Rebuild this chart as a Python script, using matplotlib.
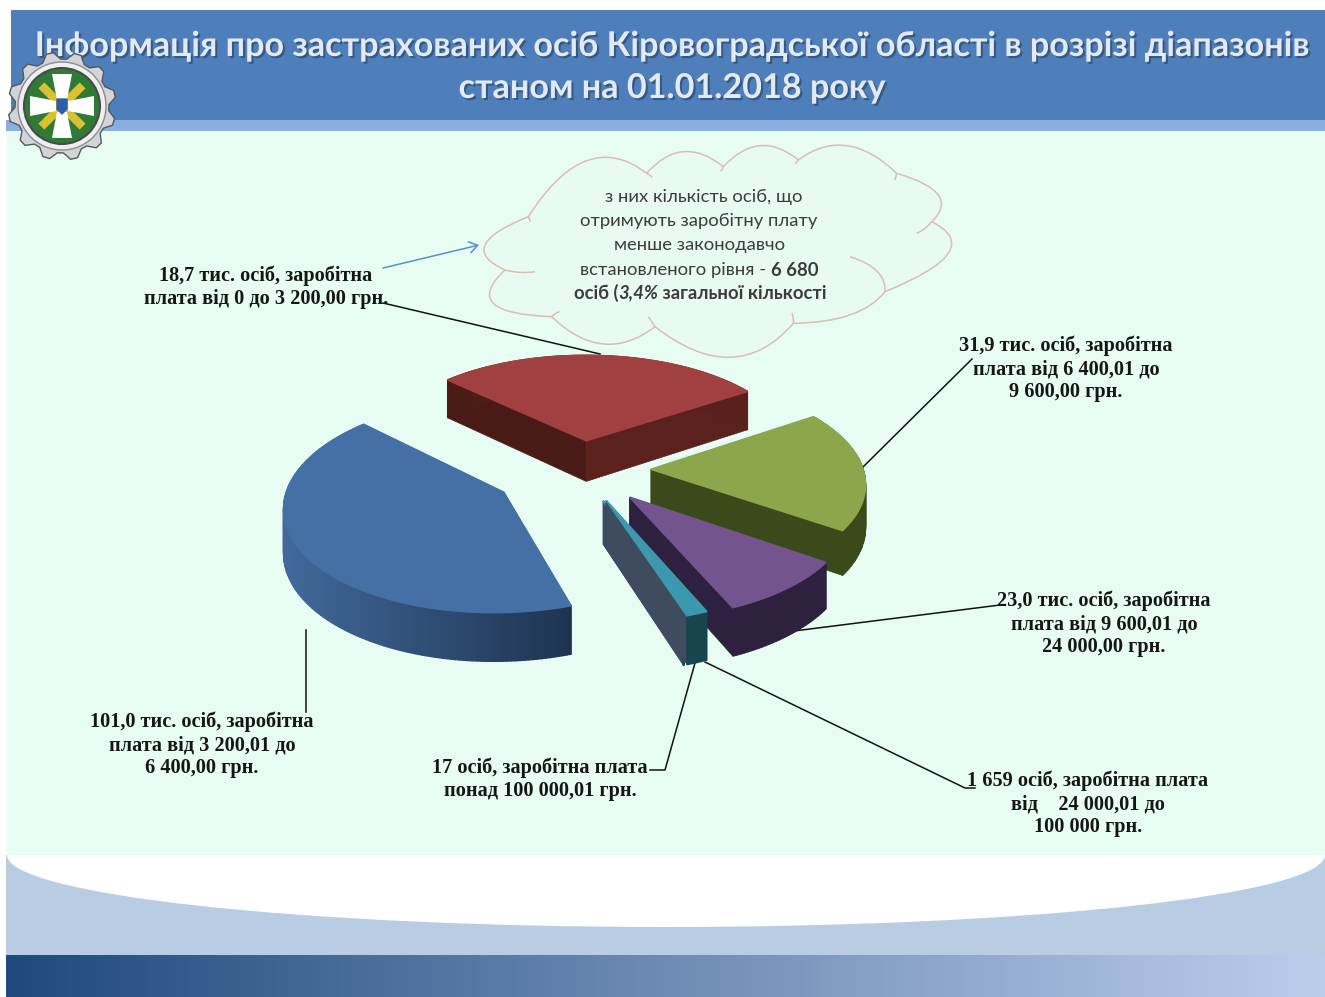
import numpy as np
import matplotlib
matplotlib.use('Agg')
import matplotlib.pyplot as plt
import matplotlib.patheffects as pe
from matplotlib.patches import Ellipse, Circle, Rectangle, PathPatch, FancyArrowPatch
from matplotlib.path import Path
from matplotlib.colors import to_rgb

# angular shares as drawn in the picture (percent of the circle), clockwise from the green slice
slice_names = ['6400-9600', '9600-24000', '24000-100000', 'over 100000', '3200-6400', '0-3200']
slice_shares = [18.9, 8.9, 1.4, 0.02, 42.2, 28.58]
start_angle = -33.5

title_lines = ['Інформація про застрахованих осіб Кіровоградської області в розрізі діапазонів',
               'станом на 01.01.2018 року']

label_lines = [
    ['18,7 тис. осіб, заробітна', 'плата від 0 до 3 200,00 грн.'],
    ['31,9 тис. осіб, заробітна', 'плата від 6 400,01 до', '9 600,00 грн.'],
    ['23,0 тис. осіб, заробітна', 'плата від 9 600,01 до', '24 000,00 грн.'],
    ['101,0 тис. осіб, заробітна', 'плата від 3 200,01 до', '6 400,00 грн.'],
    ['17 осіб, заробітна плата', 'понад 100 000,01 грн.'],
    ['1 659 осіб, заробітна плата', 'від    24 000,01 до', '100 000 грн.'],
]
label_pos = [(266, 276), (1066, 346), (1104, 601), (202, 722), (540, 768), (1088, 781)]

# slice styles: top, wall at left, wall at right, face at start angle, face at end angle
styles = {
    '6400-9600': ('#8BA64B', '#3A4A1A', '#3A4A1A', '#3A4A1A', '#3A4A1A'),
    '9600-24000': ('#74548F', '#2E2140', '#2E2140', '#2E2140', '#2E2140'),
    '24000-100000': ('#3B98AE', '#16454F', '#16454F', '#16454F', '#3F4C5F'),
    'over 100000': ('#3B98AE', '#16454F', '#16454F', '#3F4C5F', '#3F4C5F'),
    '3200-6400': ('#4570A6', '#41699B', '#1E3350', '#1E3350', '#1E3350'),
    '0-3200': ('#A04040', '#4A1B16', '#5B211C', '#4A1B16', '#5B211C'),
}
explode = {'6400-9600': 0.33, '9600-24000': 0.35, '24000-100000': 0.32, 'over 100000': 0.32,
           '3200-6400': 0.42, '0-3200': 0.29}
draw_order = ['0-3200', '6400-9600', '3200-6400', '9600-24000', 'over 100000', '24000-100000']

# projection of the pie plane into picture pixels
CX, CY = 581, 469
A, B, Q = 212, 101, 0.113
DEPTH = 42

plt.rcParams['font.family'] = ['Liberation Serif', 'DejaVu Sans']

fig = plt.figure(figsize=(13.25, 9.97), dpi=100, facecolor='white')
ax = fig.add_axes([0, 0, 1, 1])
ax.set_axis_off()


def project(X, Y):
    s = 1 / (1 - Q * Y)
    return CX + A * X * s, CY + B * Y * s, s


def gradient_bar(x0, x1, y0, y1, c0, c1):
    c = np.linspace(to_rgb(c0), to_rgb(c1), 256)[None, :, :]
    ax.imshow(c, extent=(x0, x1, y1, y0), aspect='auto', zorder=1, interpolation='bilinear')


def draw_slice(t0, t1, ex, style):
    top, wl, wr, f0, f1 = style
    mid = np.radians((t0 + t1) / 2)
    ox, oy = ex * np.cos(mid), ex * np.sin(mid)
    th = np.radians(np.linspace(t0, t1, max(int(t1 - t0), 4)))
    X = ox + np.cos(th)
    Y = oy + np.sin(th)
    px, py, s = project(X, Y)
    ax0, ay0, as0 = project(ox, oy)
    d = DEPTH * s
    d0 = DEPTH * as0
    # radial faces
    for i, c in [(0, f0), (-1, f1)]:
        ax.fill([ax0, px[i], px[i], ax0], [ay0, py[i], py[i] + d[i], ay0 + d0],
                color=c, lw=0.5, zorder=3)
    # outer wall, coloured across by screen x
    cl, cr = np.array(to_rgb(wl)), np.array(to_rgb(wr))
    xmin, xmax = px.min(), px.max()
    for i in range(len(th) - 1):
        f = ((px[i] + px[i + 1]) / 2 - xmin) / max(xmax - xmin, 1)
        c = cl + (cr - cl) * f
        ax.fill([px[i], px[i + 1], px[i + 1], px[i]],
                [py[i], py[i + 1], py[i + 1] + d[i + 1], py[i] + d[i]],
                color=c, lw=1.0, zorder=3)
    ax.fill(np.r_[ax0, px], np.r_[ay0, py], color=top, lw=1.2, zorder=3)


def draw_logo(cx, cy):
    n = 12
    ang = np.linspace(0, 2 * np.pi, n * 4, endpoint=False) + 0.1
    rad = np.tile([47, 54, 54, 47], n)
    ax.fill(cx + rad * np.cos(ang), cy + rad * np.sin(ang), fc='#D2D4D8', ec='#55585C', lw=1.0, zorder=6)
    ax.add_patch(Circle((cx, cy), 44, fc='#EEEFF1', ec='#8A8C90', lw=1, zorder=6))
    ax.add_patch(Circle((cx, cy), 38, fc='#2F7A35', ec='#4A4A4A', lw=1.5, zorder=6))
    for a in (45, 135):
        dx, dy = 25 * np.cos(np.radians(a)), 25 * np.sin(np.radians(a))
        ax.plot([cx - dx, cx + dx], [cy - dy, cy + dy], color='#D9C22E', lw=6, zorder=6)
    # flared cross arms
    for a in (0, 90, 180, 270):
        c, sn = np.cos(np.radians(a)), np.sin(np.radians(a))
        u = np.array([6, 32, 32, 6])
        v = np.array([-5, -10, 10, 5])
        ax.fill(cx + u * c - v * sn, cy + u * sn + v * c, color='white', lw=0, zorder=6)
    ax.fill([cx - 5, cx + 5, cx + 5, cx, cx - 5], [cy - 7, cy - 7, cy + 3, cy + 8, cy + 3],
            color='#2C5FA8', zorder=6)


def draw_cloud():
    # lobes in zoomed reference pixels: junction, peak, junction ...
    junctions = [(175, 230), (530, 100), (760, 80), (985, 60), (1280, 100), (1385, 245),
                 (1245, 455), (970, 550), (555, 560), (245, 530), (105, 390)]
    peaks = [(350, 62), (640, 35), (870, 17), (1130, 17), (1405, 165), (1435, 340),
             (1140, 525), (780, 652), (400, 612), (70, 490), (45, 315)]
    conv = lambda p: (470 + p[0] / 3, 140 + p[1] / 3)
    verts, codes = [conv(junctions[0])], [Path.MOVETO]
    m = len(junctions)
    for i in range(m):
        p0 = np.array(junctions[i], float)
        p1 = np.array(junctions[(i + 1) % m], float)
        pk = np.array(peaks[i], float)
        ctrl = 2 * pk - (p0 + p1) / 2
        verts += [conv(ctrl), conv(p1)]
        codes += [Path.CURVE3, Path.CURVE3]
    ax.add_patch(PathPatch(Path(verts, codes), fc='#E8FBF3', ec='#D8BDB8', lw=1.1, zorder=2))
    tails = [((175, 230), (182, 245), (178, 238)), ((530, 100), (548, 112), (540, 105)),
             ((760, 80), (752, 94), (758, 88)), ((985, 60), (975, 72), (980, 66)),
             ((1280, 100), (1274, 120), (1278, 110)), ((1385, 245), (1340, 280), (1365, 270)),
             ((1245, 455), (1140, 350), (1250, 385)), ((970, 550), (966, 520), (972, 535)),
             ((555, 560), (535, 530), (545, 545)), ((245, 530), (268, 515), (255, 520)),
             ((105, 390), (195, 395), (150, 402))]
    for a, b, c in tails:
        v = [conv(a), conv(c), conv(b)]
        ax.add_patch(PathPatch(Path(v, [Path.MOVETO, Path.CURVE3, Path.CURVE3]), fc='none',
                               ec='#D8BDB8', lw=1.1, zorder=2))


def centered_runs(cx, y, runs):
    r = fig.canvas.get_renderer()
    items = []
    total = 0
    for s, w, st in runs:
        t = ax.text(0, y, s, family=['Lato', 'DejaVu Sans'], fontsize=13.3, fontweight=w, fontstyle=st,
                    color='#3C3C3C', va='center', ha='left', zorder=7)
        wd = t.get_window_extent(r).width
        items.append((t, wd))
        total += wd
    x = cx - total / 2
    for t, wd in items:
        t.set_x(x)
        x += wd


# page background
ax.add_patch(Rectangle((6, 855), 1319, 100, fc='#B8CCE4', ec='none', zorder=0))
ax.add_patch(Ellipse((666, 855), 1318, 144, fc='white', ec='none', zorder=0.5))
ax.add_patch(Rectangle((7, 130), 1318, 725, fc='#E7FDF3', ec='none', zorder=1))
ax.add_patch(Rectangle((6, 120), 1319, 11, fc='#8AAEDF', ec='none', zorder=1.2))
ax.add_patch(Rectangle((11, 10), 1314, 110, fc='#4F7FBB', ec='none', zorder=1.2))
gradient_bar(6, 1325, 955, 997, '#1F497D', '#BCCDEC')

# pie
edges = start_angle + np.r_[0, np.cumsum(slice_shares)] * 3.6
angles = {n: (edges[i], edges[i + 1]) for i, n in enumerate(slice_names)}
for n in draw_order:
    draw_slice(angles[n][0], angles[n][1], explode[n], styles[n])

# leader lines
leaders = [([383, 600], [303, 354]), ([863, 972], [467, 359]), ([786, 1000], [632, 605]),
           ([306, 306], [630, 712]), ([695, 665, 650], [663, 770, 770]), ([705, 965, 975], [662, 788, 788])]
for lx, ly in leaders:
    ax.plot(lx, ly, color='#111111', lw=1.1, zorder=2.5)

draw_cloud()
ax.add_patch(FancyArrowPatch((383, 268), (479, 245), arrowstyle='->,head_length=6,head_width=4',
                             color='#5B8FC9', lw=1.1, zorder=4, shrinkA=0, shrinkB=0))

# cloud text
centered_runs(704, 197, [('з них кількість осіб, що', 'normal', 'normal')])
centered_runs(699, 221, [('отримують заробітну плату', 'normal', 'normal')])
centered_runs(700, 245, [('менше законодавчо', 'normal', 'normal')])
centered_runs(699, 270, [('встановленого рівня - ', 'normal', 'normal'), ('6 680', 'bold', 'normal')])
centered_runs(700, 293, [('осіб (', 'bold', 'normal'), ('3,4%', 'bold', 'italic'),
                         (' загальної кількості', 'bold', 'normal')])

# labels
for lines, (x, y) in zip(label_lines, label_pos):
    for i, line in enumerate(lines):
        ax.text(x, y + i * 23, line, ha='center', va='center', fontsize=14.6, fontweight='bold',
                color='#161616', zorder=7)

# title
for line, y in zip(title_lines, (46, 88)):
    ax.text(672, y, line, ha='center', va='center', fontsize=24.6, fontweight='bold', color='#E3EAF4',
            family=['Lato', 'DejaVu Sans'], zorder=5,
            path_effects=[pe.withSimplePatchShadow(offset=(1.5, -1.5), shadow_rgbFace='#33557F', alpha=0.9)])

draw_logo(62, 106)

ax.set_xlim(0, 1325)
ax.set_ylim(997, 0)
fig.savefig('out.png', dpi=100, facecolor='white')
